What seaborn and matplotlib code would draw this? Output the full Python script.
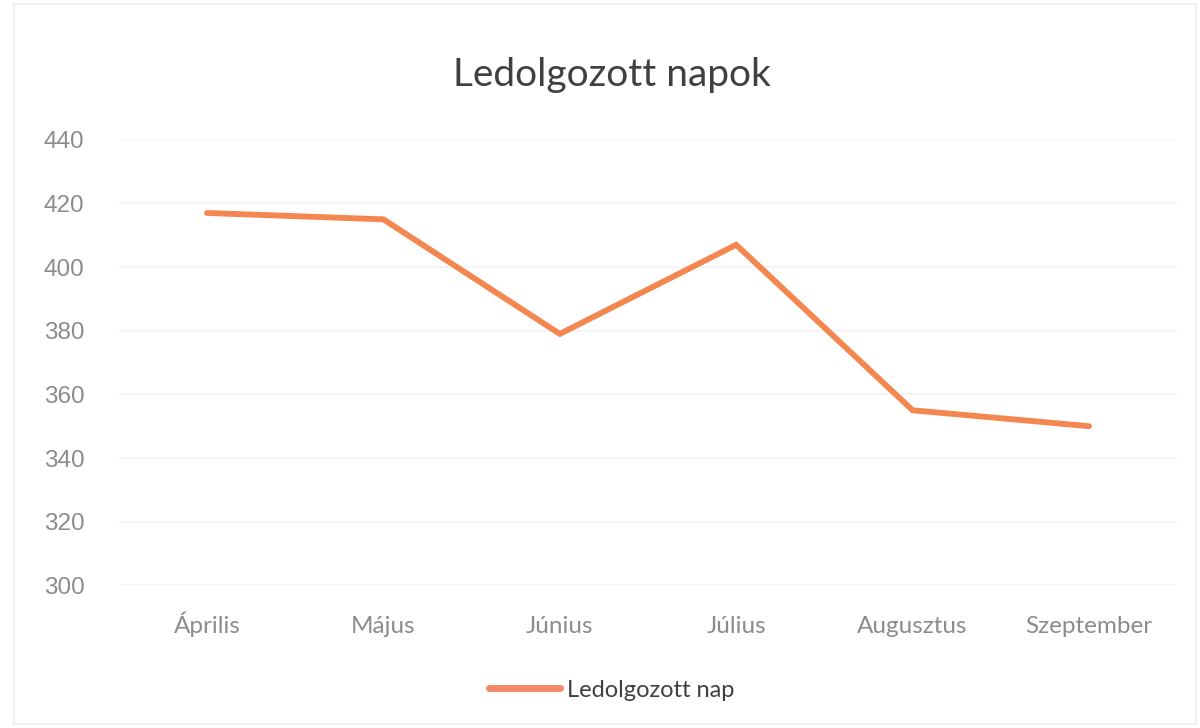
import matplotlib
matplotlib.use("Agg")
import matplotlib.pyplot as plt
import seaborn as sns
import pandas as pd
from matplotlib.patches import Rectangle

months = ["Április", "Május", "Június", "Július", "Augusztus", "Szeptember"]
values = [417, 415, 379, 407, 355, 350]
series_name = "Ledolgozott nap"
title = "Ledolgozott napok"
yticks = [300, 320, 340, 360, 380, 400, 420, 440]

df = pd.DataFrame({"Hónap": months, "Érték": values, "Sorozat": series_name})

sns.set_style("white")
plt.rcParams["font.family"] = ["Lato", "DejaVu Sans"]

fig = plt.figure(figsize=(12, 7.28), dpi=100)
ax = fig.add_axes([0.099, 0.196, 0.882, 0.612])

sns.lineplot(data=df, x="Hónap", y="Érték", hue="Sorozat", palette=["#F4874F"],
             linewidth=4.2, sort=False, ax=ax, legend=True)
for ln in ax.lines:
    ln.set_solid_capstyle("round")
    ln.set_solid_joinstyle("miter")

ax.set_xlim(-0.5, len(months) - 0.5)
ax.set_ylim(300, 440)
ax.set_yticks(yticks)
ax.set_yticklabels([str(t) for t in yticks], fontsize=17.5, color="#8c8c8c",
                   family=["Liberation Sans", "DejaVu Sans"])
ax.set_xticks(range(len(months)))
ax.set_xticklabels(months, fontsize=17.5, color="#8c8c8c")
ax.tick_params(axis="both", length=0)
ax.tick_params(axis="x", pad=34)
ax.tick_params(axis="y", pad=54)
for lbl in ax.get_yticklabels():
    lbl.set_horizontalalignment("left")
for lbl in ax.get_xticklabels():
    lbl.set_verticalalignment("baseline")
ax.grid(axis="y", color="#f4f4f4", linewidth=1.2)
ax.set_axisbelow(True)
for s in ax.spines.values():
    s.set_visible(False)
ax.set_xlabel("")
ax.set_ylabel("")

leg = ax.legend(loc="center", bbox_to_anchor=(0.51, 0.052), bbox_transform=fig.transFigure,
                frameon=False, fontsize=17, handlelength=3.0, handletextpad=0.3)
for t in leg.get_texts():
    t.set_color("#404040")
for h in leg.get_lines():
    h.set_linewidth(5)
    h.set_color("#F4896A")

fig.text(0.51, 0.897, title, ha="center", va="center", fontsize=28, color="#404040")

fig.patches.append(Rectangle((0.012, 0.005), 0.985, 0.99, transform=fig.transFigure,
                             fill=False, edgecolor="#f0f0f0", linewidth=1.5))

fig.savefig("out.png", dpi=100, facecolor="white")
